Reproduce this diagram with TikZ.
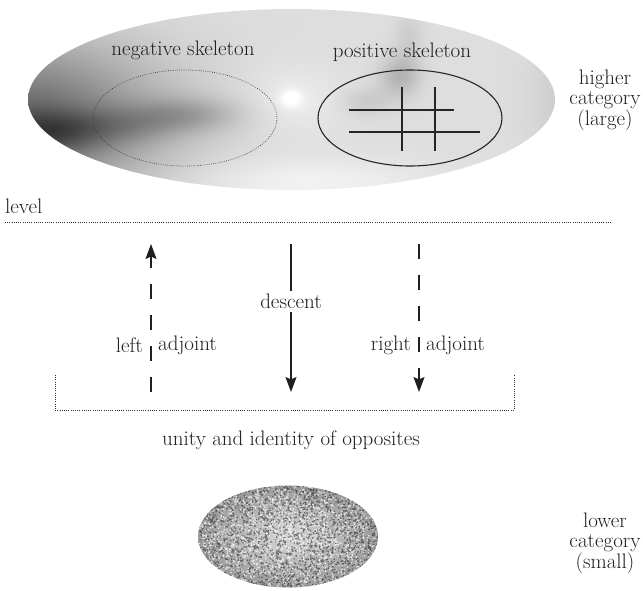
\documentclass[tikz,border=0pt]{standalone}
\usetikzlibrary{arrows.meta}
\tikzset{
 lbl/.style={font=\fontsize{21}{20}\selectfont, text=black!88, inner sep=1pt},
 dotline/.style={line width=0.7pt, dash pattern=on 0.7pt off 1.5pt},
 dasharrow/.style={line width=1.1pt, dash pattern=on 15pt off 16pt},
 tipdown/.style={-{Stealth[length=15pt,width=11pt,inset=2.5pt]}},
 gridline/.style={line width=1.1pt, black!85},
}
% smooth grey field of the higher category: sum of gaussian blobs (pixel coordinates)
\pgfdeclarefunctionalshading{bigfield}{\pgfpoint{-50bp}{-50bp}}{\pgfpoint{50bp}{50bp}}{}{
 3.62 mul 99.5 exch sub exch 10.54 mul 291.5 add exch
 0.87
 2 index 20 sub 140 div dup mul 2 index 120 sub 80 div dup mul add neg 2.71828 exch exp -0.45 mul add
 2 index 45 sub 55 div dup mul 2 index 132 sub 22 div dup mul add neg 2.71828 exch exp -0.22 mul add
 2 index 120 sub 60 div dup mul 2 index 126 sub 18 div dup mul add neg 2.71828 exch exp -0.12 mul add
 2 index 185 sub 55 div dup mul 2 index 114 sub 17 div dup mul add neg 2.71828 exch exp -0.17 mul add
 2 index 291 sub 11 div dup mul 2 index 98 sub 9 div dup mul add neg 2.71828 exch exp 0.12 mul add
 2 index 290 sub 50 div dup mul 2 index 100 sub 35 div dup mul add neg 2.71828 exch exp 0.06 mul add
 2 index 408 sub 14 div dup mul 2 index 40 sub 30 div dup mul add neg 2.71828 exch exp -0.07 mul add
 2 index 399 sub 20 div dup mul 2 index 76 sub 20 div dup mul add neg 2.71828 exch exp -0.16 mul add
 2 index 366 sub 25 div dup mul 2 index 101 sub 14 div dup mul add neg 2.71828 exch exp -0.08 mul add
 2 index 300 sub 130 div dup mul 2 index 182 sub 25 div dup mul add neg 2.71828 exch exp 0.08 mul add
 2 index 565 sub 35 div dup mul 2 index 100 sub 90 div dup mul add neg 2.71828 exch exp -0.07 mul add
 3 1 roll pop pop dup dup
}
\begin{document}
\begin{tikzpicture}[x=1pt,y=-1pt]
\useasboundingbox (0,0) rectangle (643,590);
% higher category
\shade[shading=bigfield] (291.5,99.5) ellipse (263.5 and 90.5);
\node[lbl] (neg) at (183,50) {negative skeleton};
\node[lbl] (pos) at (402,52) {positive skeleton};
\draw[dotline, black!80] (185,118) ellipse (92 and 48);
\draw[line width=1.1pt, black!85] (410,118) ellipse (92 and 48);
\draw[gridline] (349,110) -- (454,110);
\draw[gridline] (349,132) -- (480,132);
\draw[gridline] (402,87) -- (402,151);
\draw[gridline] (435,87) -- (435,151);
\node[lbl, align=center] (hi) at (605,100) {higher\\category\\(large)};
% level
\node[lbl, anchor=base west] (lev) at (4,213) {level};
\coordinate (lv0) at (5,222);
\coordinate (lv1) at (611,222);
\draw[dotline, black!80] (lv0) -- (lv1);
% arrows
\coordinate (la0) at (151,392);
\coordinate (la1) at (151,244);
\draw[dasharrow, tipdown, black!88] (la0) -- (la1);
\node[lbl, anchor=east] (lft) at (144,345) {left};
\node[lbl, anchor=west] (ladj) at (157,345) {adjoint};
\coordinate (d0) at (291,244);
\coordinate (d1) at (291,392);
\draw[line width=1.1pt, tipdown, black!88] (d0) -- node[lbl, pos=0.39, fill=white, inner sep=3pt] (desc) {descent} (d1);
\coordinate (r0) at (419,244);
\coordinate (r1) at (419,392);
\draw[dasharrow, tipdown, black!88] (r0) -- (r1);
\node[lbl, anchor=east] (rgt) at (412,345) {right};
\node[lbl, anchor=west] (radj) at (425,345) {adjoint};
% bracket
\coordinate (b0) at (55,375);
\coordinate (b1) at (55,410);
\coordinate (b2) at (514,410);
\coordinate (b3) at (514,375);
\draw[dotline, black!80] (b0) -- (b1) -- (b2) -- (b3);
\node[lbl] (unity) at (291,440) {unity and identity of opposites};
% lower category
\begin{scope}
 \clip (288,536.5) ellipse (90 and 51);
 \shade[inner color=gray!30, outer color=gray!80] (198,485) rectangle (378,588);
 \pgfmathsetseed{11}
 \fill[white, opacity=0.7] \foreach \i in {1,...,2200}{ ({198+180*rnd},{485+103*rnd}) rectangle +(1.3,1.3) };
 \fill[black, opacity=0.45] \foreach \i in {1,...,2200}{ ({198+180*rnd},{485+103*rnd}) rectangle +(1.3,1.3) };
\end{scope}
\node[lbl, align=center] (lo) at (605,543) {lower\\category\\(small)};
\end{tikzpicture}
\end{document}
